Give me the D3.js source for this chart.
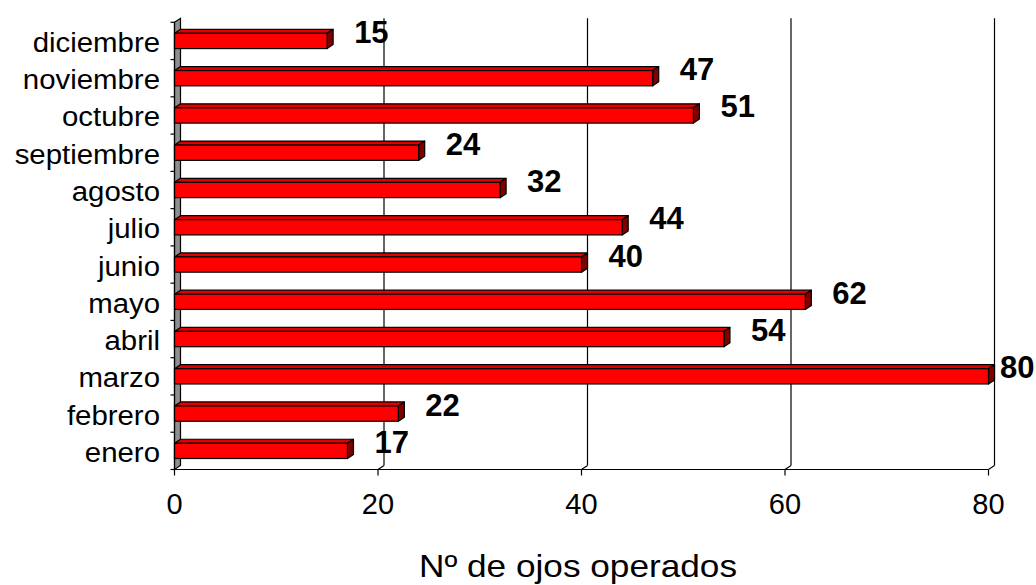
<!DOCTYPE html>
<html>
<head>
<meta charset="utf-8">
<script src="https://cdnjs.cloudflare.com/ajax/libs/d3/7.8.5/d3.min.js"></script>
<style>
  body { margin: 0; background: #fff; }
  text { font-family: "Liberation Sans", Arial, sans-serif; fill: #000; }
</style>
</head>
<body>
<script>
// data (top to bottom as drawn)
var months = ['diciembre', 'noviembre', 'octubre', 'septiembre', 'agosto', 'julio',
              'junio', 'mayo', 'abril', 'marzo', 'febrero', 'enero'];
var operados = [15, 47, 51, 24, 32, 44, 40, 62, 54, 80, 22, 17];
var xTicks = [0, 20, 40, 60, 80];
var axisTitle = 'Nº de ojos operados';

var W = 1036, H = 585;
var depth = {dx: 6, dy: -4};   // 3d offset of the back wall / bar depth

var svg = d3.select('body').append('svg')
            .attr('width', W)
            .attr('height', H);

var x = d3.scaleLinear().domain([0, 80]).range([174.5, 988.5]);
var y = d3.scaleBand().domain(months).range([22.3, 469.5]).padding(0);

var top0 = y.range()[0], bottom0 = y.range()[1];

// grey side wall
svg.append('polygon')
   .attr('points', [[x(0), top0], [x(0) + depth.dx, top0 + depth.dy],
                    [x(0) + depth.dx, bottom0 + depth.dy], [x(0), bottom0]].join(' '))
   .attr('fill', '#8f8f8f')
   .attr('stroke', '#000')
   .attr('stroke-width', 1.2);

// gridlines on the back wall + floor diagonals
svg.selectAll('line.grid').data(xTicks.slice(1)).enter()
   .append('line')
   .attr('class', 'grid')
   .attr('x1', function(d){ return x(d) + depth.dx; })
   .attr('x2', function(d){ return x(d) + depth.dx; })
   .attr('y1', top0 + depth.dy)
   .attr('y2', bottom0 + depth.dy)
   .attr('stroke', '#000')
   .attr('stroke-width', 1.2);

svg.selectAll('line.floor').data(xTicks.slice(1)).enter()
   .append('line')
   .attr('class', 'floor')
   .attr('x1', function(d){ return x(d); })
   .attr('x2', function(d){ return x(d) + depth.dx; })
   .attr('y1', bottom0)
   .attr('y2', bottom0 + depth.dy)
   .attr('stroke', '#000')
   .attr('stroke-width', 1.2);

// bars: front, top and side faces
var bh = y.bandwidth() * 0.41;
var bars = svg.selectAll('g.bar').data(months).enter()
   .append('g').attr('class', 'bar');

bars.append('polygon')   // top face
    .attr('points', function(d, i){
      var x0 = x(0), x1 = x(operados[i]), y0 = y(d) + (y.bandwidth() - bh) / 2;
      return [[x0, y0], [x0 + depth.dx, y0 + depth.dy], [x1 + depth.dx, y0 + depth.dy], [x1, y0]].join(' ');
    })
    .attr('fill', '#e00000')
    .attr('stroke', '#000')
    .attr('stroke-width', 1.2)
    .attr('stroke-linejoin', 'round');

bars.append('polygon')   // side face
    .attr('points', function(d, i){
      var x1 = x(operados[i]), y0 = y(d) + (y.bandwidth() - bh) / 2, y1 = y0 + bh;
      return [[x1, y0], [x1 + depth.dx, y0 + depth.dy], [x1 + depth.dx, y1 + depth.dy], [x1, y1]].join(' ');
    })
    .attr('fill', '#800000')
    .attr('stroke', '#000')
    .attr('stroke-width', 1.2)
    .attr('stroke-linejoin', 'round');

bars.append('rect')      // front face
    .attr('x', x(0))
    .attr('y', function(d){ return y(d) + (y.bandwidth() - bh) / 2; })
    .attr('width', function(d, i){ return x(operados[i]) - x(0); })
    .attr('height', bh)
    .attr('fill', '#ff0000')
    .attr('stroke', '#000')
    .attr('stroke-width', 1.2);

// axes lines
svg.append('line')
   .attr('x1', x(0)).attr('x2', x(0))
   .attr('y1', top0).attr('y2', bottom0)
   .attr('stroke', '#000').attr('stroke-width', 1.2);
svg.append('line')
   .attr('x1', x(0)).attr('x2', x(80))
   .attr('y1', bottom0).attr('y2', bottom0)
   .attr('stroke', '#000').attr('stroke-width', 1.2);

// category ticks (band edges)
var edges = months.map(function(d){ return y(d); }).concat([bottom0]);
svg.selectAll('line.ytick').data(edges).enter()
   .append('line')
   .attr('class', 'ytick')
   .attr('x1', x(0) - 4).attr('x2', x(0))
   .attr('y1', function(d){ return d; })
   .attr('y2', function(d){ return d; })
   .attr('stroke', '#000').attr('stroke-width', 1.2);

svg.selectAll('line.xtick').data(xTicks).enter()
   .append('line')
   .attr('class', 'xtick')
   .attr('x1', function(d){ return x(d); })
   .attr('x2', function(d){ return x(d); })
   .attr('y1', bottom0).attr('y2', bottom0 + 6)
   .attr('stroke', '#000').attr('stroke-width', 1.2);

// category labels
svg.selectAll('text.cat').data(months).enter()
   .append('text')
   .attr('class', 'cat')
   .attr('transform', function(d){
     return 'translate(160,' + (y(d) + y.bandwidth() / 2 + 11) + ') scale(1.05,1)';
   })
   .attr('text-anchor', 'end')
   .style('font-size', '28px')
   .text(function(d){ return d; });

// value tick labels
svg.selectAll('text.xlab').data(xTicks).enter()
   .append('text')
   .attr('class', 'xlab')
   .attr('x', function(d){ return x(d); })
   .attr('y', 514)
   .attr('text-anchor', 'middle')
   .style('font-size', '29px')
   .text(function(d){ return d; });

// data labels
svg.selectAll('text.val').data(months).enter()
   .append('text')
   .attr('class', 'val')
   .attr('x', function(d, i){
     return Math.min(x(operados[i]) + 27, W - 36);
   })
   .attr('y', function(d){ return y(d) + y.bandwidth() / 2 + 2; })
   .style('font-size', '31px')
   .style('font-weight', 'bold')
   .text(function(d, i){ return operados[i]; });

// axis title
svg.append('text')
   .attr('transform', 'translate(578,577) scale(1.1,1)')
   .attr('text-anchor', 'middle')
   .style('font-size', '32px')
   .text(axisTitle);
</script>
</body>
</html>
